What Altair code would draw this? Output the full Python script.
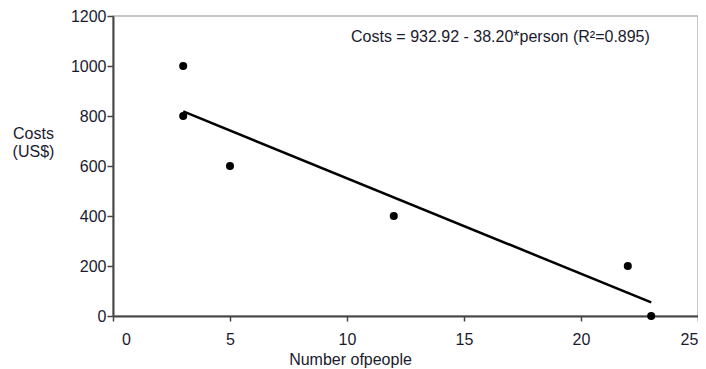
import altair as alt
import pandas as pd

people = [3, 3, 5, 12, 22, 23]
costs = [1000, 800, 600, 400, 200, 0]
x_ticks = [0, 5, 10, 15, 20, 25]
y_ticks = [0, 200, 400, 600, 800, 1000, 1200]
equation = "Costs = 932.92 - 38.20*person (R\u00b2=0.895)"

df = pd.DataFrame({"people": people, "costs": costs})
FONT = "Liberation Sans"
TXT = "#1a1a2e"

base = alt.Chart(df)

xenc = alt.X(
    "people:Q",
    scale=alt.Scale(domain=[0, 25], nice=False, zero=False),
    axis=alt.Axis(
        values=x_ticks, title="Number ofpeople", grid=False, format="d",
        titleX=237, titleY=43, titleAnchor="middle", titleAlign="center",
        titleBaseline="middle", titleFontWeight="normal",
        tickSize=5, labelPadding=10, labelFlush=False,
        labelOffset={
            "condition": [
                {"test": "datum.value == 0", "value": 13},
                {"test": "datum.value == 25", "value": -9},
            ],
            "value": 0,
        },
    ),
)
yenc = alt.Y(
    "costs:Q",
    scale=alt.Scale(domain=[0, 1200], nice=False),
    axis=alt.Axis(
        values=y_ticks, title=["Costs", "(US$)"], grid=False, format="d",
        titleAngle=0, titleX=-80, titleY=117, titleAlign="center",
        titleBaseline="middle", titleLineHeight=18, titleFontWeight="normal",
        tickSize=6, labelPadding=1, labelFlush=False,
    ),
)

points = base.mark_circle(size=65, color="black", opacity=1).encode(x=xenc, y=yenc)

line = base.transform_regression("people", "costs").mark_line(
    color="black", strokeWidth=2.5
).encode(x="people:Q", y="costs:Q")

label = alt.Chart(pd.DataFrame({"t": [equation]})).mark_text(
    align="left", baseline="middle", fontSize=16, font=FONT, color=TXT
).encode(text="t:N", x=alt.value(238), y=alt.value(21))

chart = alt.layer(line, points, label).properties(
    width=585, height=300,
    autosize=alt.AutoSizeParams(type="none"),
    padding={"left": 105, "top": 8, "right": 0, "bottom": 56},
).configure_view(
    stroke="#b5b5b5", strokeWidth=1.5
).configure_axis(
    labelFont=FONT, titleFont=FONT, labelFontSize=16, titleFontSize=16,
    labelColor=TXT, titleColor=TXT,
    domainColor="#444444", domainWidth=2, tickColor="#444444", tickWidth=1.5,
)

chart.save("out.html", embed_options={"renderer": "svg", "actions": False})
